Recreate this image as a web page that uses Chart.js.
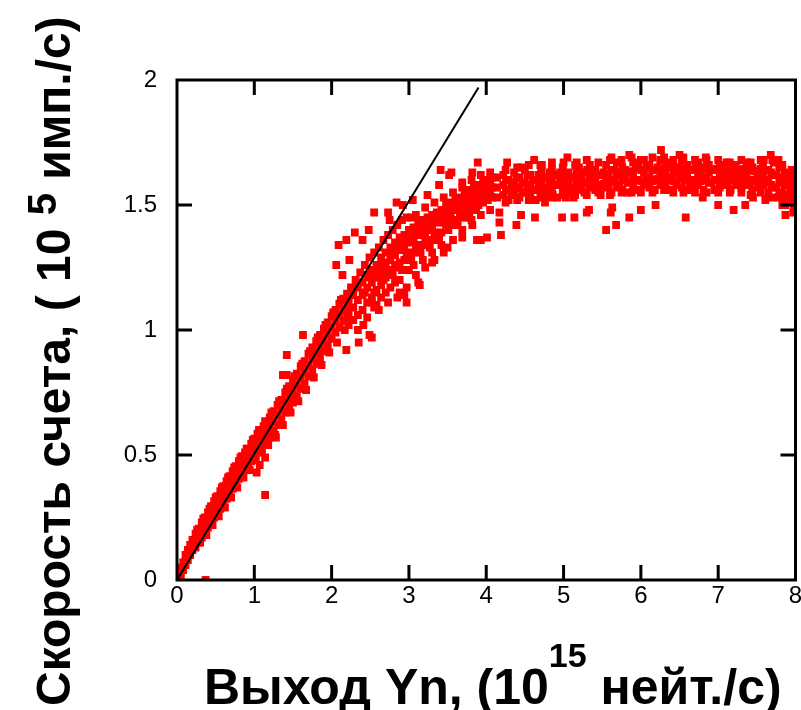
<!DOCTYPE html>
<html>
<head>
<meta charset="utf-8">
<script src="https://cdn.jsdelivr.net/npm/chart.js@4.4.0/dist/chart.umd.min.js"></script>
<style>
  html, body { margin: 0; padding: 0; background: #fff; }
  #wrap { width: 801px; height: 710px; }
</style>
</head>
<body>
<div id="wrap"><canvas id="scatterChart" width="801" height="710"></canvas></div>
<script>
// axis ticks
const xTicks = [0, 1, 2, 3, 4, 5, 6, 7, 8];
const xTickLabels = ['0', '1', '2', '3', '4', '5', '6', '7', '8'];
const yTicks = [0, 0.5, 1, 1.5, 2];
const yTickLabels = ['0', '0.5', '1', '1.5', '2'];

// linear fit line (yield, rate)
const fitYield = [0, 3.9];
const fitRate = [0, 1.97];

const risePoints = [
  [0.01,0.01],[0.02,0.03],[0.03,0.00],[0.05,0.05],[0.05,0.02],[0.08,0.07],[0.08,0.04],[0.11,0.10],[0.11,0.06],
  [0.14,0.12],[0.14,0.08],[0.17,0.14],[0.17,0.10],[0.20,0.16],[0.20,0.12],
  [0.24,0.185],[0.24,0.16],[0.24,0.13],[0.28,0.205],[0.28,0.18],[0.28,0.15],[0.32,0.23],[0.32,0.20],[0.32,0.17],
  [0.36,0.25],[0.36,0.22],[0.36,0.19],[0.40,0.27],[0.40,0.24],[0.40,0.21],[0.44,0.295],[0.44,0.26],[0.44,0.23],
  [0.48,0.315],[0.48,0.28],[0.48,0.25],[0.52,0.335],[0.52,0.30],[0.52,0.265],[0.56,0.355],[0.56,0.32],[0.56,0.285],
  [0.60,0.375],[0.60,0.34],[0.60,0.305],[0.64,0.395],[0.64,0.36],[0.64,0.325],[0.68,0.415],[0.68,0.38],[0.68,0.345],
  [0.72,0.435],[0.72,0.40],[0.72,0.365],[0.76,0.455],[0.76,0.42],[0.76,0.385],[0.80,0.475],[0.80,0.44],[0.80,0.405],
  [0.84,0.495],[0.84,0.46],[0.84,0.425],[0.88,0.51],[0.88,0.475],[0.88,0.44],[0.92,0.525],[0.92,0.49],[0.92,0.455],
  [0.96,0.545],[0.96,0.51],[0.96,0.475],[1.00,0.565],[1.00,0.53],[1.00,0.495],[1.04,0.585],[1.04,0.55],[1.04,0.515],
  [1.08,0.60],[1.08,0.565],[1.08,0.53],[1.12,0.615],[1.12,0.58],[1.12,0.545],[1.16,0.63],[1.16,0.595],[1.16,0.56],
  [1.20,0.65],[1.20,0.61],[1.20,0.57],[1.25,0.675],[1.25,0.635],[1.25,0.595],[1.30,0.70],[1.30,0.66],[1.30,0.62],
  [1.35,0.72],[1.35,0.68],[1.35,0.64],[1.40,0.75],[1.40,0.71],[1.40,0.67],[1.45,0.775],[1.45,0.73],[1.45,0.69],
  [1.50,0.80],[1.50,0.755],[1.50,0.71],[1.55,0.825],[1.55,0.78],[1.55,0.735],[1.60,0.855],[1.60,0.81],[1.60,0.765],
  [1.65,0.875],[1.65,0.83],[1.65,0.785],[1.70,0.905],[1.70,0.86],[1.70,0.815],[1.75,0.93],[1.75,0.885],[1.75,0.84],
  [1.80,0.955],[1.80,0.91],[1.80,0.865],[1.85,0.98],[1.85,0.935],[1.85,0.89],[1.90,1.005],[1.90,0.96],[1.90,0.915],
  [1.95,1.03],[1.95,0.985],[1.95,0.94],[2.00,1.055],[2.00,1.01],[2.00,0.965],[2.05,1.08],[2.05,1.035],[2.05,0.99],
  [2.10,1.105],[2.10,1.06],[2.10,1.01],[2.15,1.125],[2.15,1.08],[2.15,1.035],[2.20,1.145],[2.20,1.10],[2.20,1.05],
  [0.26,0.20],[0.30,0.15],[0.34,0.245],[0.38,0.18],[0.42,0.285],[0.46,0.22],[0.50,0.33],[0.54,0.255],[0.58,0.37],
  [0.62,0.29],[0.66,0.41],[0.70,0.33],[0.74,0.45],[0.78,0.37],[0.82,0.49],[0.86,0.41],[0.90,0.525],[0.94,0.44],
  [0.98,0.56],[1.02,0.48],[1.06,0.60],[1.10,0.51],[1.14,0.635],[1.18,0.54],[1.22,0.67],[1.27,0.58],[1.32,0.715],
  [1.37,0.62],[1.42,0.765],[1.47,0.67],[1.52,0.815],[1.57,0.715],[1.62,0.865],[1.67,0.76],[1.72,0.915],[1.77,0.81],
  [1.82,0.97],[1.87,0.86],[1.92,1.02],[1.97,0.91],[2.02,1.07],[2.07,0.95],[2.12,1.12],[2.17,1.00]
];

const kneePoints = [
  [2.22,1.12],[2.22,1.07],[2.22,1.02],[2.28,1.14],[2.28,1.09],[2.28,1.04],[2.34,1.17],[2.34,1.12],[2.34,1.06],[2.34,1.00],
  [2.40,1.19],[2.40,1.14],[2.40,1.08],[2.46,1.22],[2.46,1.17],[2.46,1.11],[2.46,1.05],[2.52,1.24],[2.52,1.19],[2.52,1.13],
  [2.58,1.26],[2.58,1.21],[2.58,1.16],[2.58,1.10],[2.64,1.29],[2.64,1.24],[2.64,1.18],[2.64,1.13],
  [2.70,1.31],[2.70,1.26],[2.70,1.21],[2.70,1.15],[2.76,1.33],[2.76,1.28],[2.76,1.23],[2.76,1.17],
  [2.82,1.35],[2.82,1.30],[2.82,1.25],[2.82,1.19],[2.88,1.37],[2.88,1.32],[2.88,1.27],[2.88,1.20],
  [2.94,1.38],[2.94,1.33],[2.94,1.28],[2.94,1.14],[3.00,1.40],[3.00,1.35],[3.00,1.30],[3.00,1.24],
  [3.06,1.41],[3.06,1.36],[3.06,1.31],[3.06,1.26],[3.12,1.43],[3.12,1.38],[3.12,1.33],[3.12,1.19],
  [3.18,1.44],[3.18,1.39],[3.18,1.34],[3.18,1.28],[3.24,1.45],[3.24,1.40],[3.24,1.35],
  [3.30,1.46],[3.30,1.41],[3.30,1.36],[3.30,1.31],[3.36,1.47],[3.36,1.43],[3.36,1.38],
  [3.42,1.48],[3.42,1.44],[3.42,1.39],[3.42,1.34],[3.48,1.50],[3.48,1.45],[3.48,1.40],
  [3.54,1.51],[3.54,1.46],[3.54,1.42],[3.60,1.52],[3.60,1.48],[3.60,1.43],[3.66,1.53],[3.66,1.49],[3.66,1.45],
  [3.72,1.55],[3.72,1.50],[3.72,1.46],[3.78,1.56],[3.78,1.52],[3.78,1.47],[3.84,1.57],[3.84,1.53],[3.84,1.49],
  [3.90,1.58],[3.90,1.54],[3.90,1.50],[3.96,1.59],[3.96,1.55],[3.96,1.51],[4.02,1.60],[4.02,1.56],[4.02,1.52],
  [4.08,1.61],[4.08,1.57],[4.08,1.53],[4.14,1.61],[4.14,1.57],[4.14,1.53],
  [2.55,1.23],[2.55,1.15],[2.67,1.27],[2.67,1.20],[2.79,1.31],[2.79,1.22],[2.91,1.35],[2.91,1.24],
  [3.03,1.38],[3.03,1.28],[3.03,1.45],[3.15,1.41],[3.15,1.31],[3.27,1.43],[3.27,1.33],[3.39,1.46],[3.39,1.36],
  [3.51,1.48],[3.51,1.40],[3.63,1.50],[3.63,1.42],[3.75,1.53],[3.75,1.45],[3.87,1.55],[3.87,1.48],
  [2.25,1.17],[2.31,1.20],[2.37,1.23],[2.43,1.26],[2.49,1.29],[2.55,1.31],[2.61,1.33],[2.67,1.36],[2.73,1.38],
  [2.79,1.40],[2.85,1.42],[2.91,1.44],[2.97,1.45],[3.09,1.46],[3.21,1.49],[3.33,1.51],[3.45,1.53],[3.57,1.55],
  [3.69,1.59],[3.81,1.60],[3.93,1.62],[4.05,1.63],
  [2.61,1.08],[2.73,1.11],[2.85,1.13],[2.97,1.17],[3.09,1.22],[3.21,1.25],[3.33,1.28],[3.45,1.31],[3.57,1.36],
  [3.69,1.40],[3.81,1.44],[3.93,1.46],[4.05,1.48],
  [2.43,1.15],[2.49,1.21],[2.61,1.23],[2.73,1.24],[2.85,1.26],[2.97,1.31],[3.09,1.34],[3.21,1.37],[3.33,1.39],
  [3.45,1.43],[3.57,1.44],[3.69,1.47],[3.81,1.50],[3.93,1.52],[4.05,1.54],[2.85,1.34],[2.97,1.38],[3.09,1.40],
  [3.21,1.42],[3.33,1.44],[3.45,1.47],[3.57,1.49],[3.69,1.52],[3.81,1.55],[3.93,1.57],[4.05,1.58]
];

const plateauPoints = [
  [4.22,1.62],[4.22,1.58],[4.22,1.54],[4.29,1.60],[4.29,1.56],[4.29,1.52],[4.36,1.63],[4.36,1.59],[4.36,1.55],
  [4.43,1.61],[4.43,1.57],[4.43,1.53],[4.50,1.64],[4.50,1.59],[4.50,1.55],[4.57,1.62],[4.57,1.58],[4.57,1.54],
  [4.64,1.60],[4.64,1.56],[4.64,1.52],[4.71,1.63],[4.71,1.59],[4.71,1.55],[4.78,1.61],[4.78,1.57],[4.78,1.54],
  [4.85,1.64],[4.85,1.60],[4.85,1.56],[4.92,1.62],[4.92,1.58],[4.92,1.53],[4.99,1.65],[4.99,1.60],[4.99,1.56],
  [5.06,1.63],[5.06,1.59],[5.06,1.55],[5.13,1.61],[5.13,1.57],[5.13,1.53],[5.20,1.65],[5.20,1.60],[5.20,1.56],
  [5.27,1.63],[5.27,1.59],[5.27,1.55],[5.34,1.66],[5.34,1.61],[5.34,1.57],[5.41,1.64],[5.41,1.60],[5.41,1.56],
  [5.48,1.62],[5.48,1.58],[5.48,1.54],[5.55,1.66],[5.55,1.61],[5.55,1.57],[5.62,1.64],[5.62,1.60],[5.62,1.55],
  [5.69,1.67],[5.69,1.62],[5.69,1.57],[5.76,1.65],[5.76,1.61],[5.76,1.56],[5.83,1.63],[5.83,1.59],[5.83,1.55],
  [5.90,1.67],[5.90,1.62],[5.90,1.58],[5.97,1.65],[5.97,1.60],[5.97,1.56],[6.04,1.68],[6.04,1.63],[6.04,1.58],
  [6.11,1.66],[6.11,1.61],[6.11,1.57],[6.18,1.64],[6.18,1.60],[6.18,1.56],[6.25,1.68],[6.25,1.63],[6.25,1.58],
  [6.32,1.66],[6.32,1.62],[6.32,1.57],[6.39,1.67],[6.39,1.61],[6.39,1.56],[6.46,1.65],[6.46,1.63],[6.46,1.58],
  [6.53,1.68],[6.53,1.62],[6.53,1.57],[6.60,1.66],[6.60,1.61],[6.60,1.56],[6.67,1.64],[6.67,1.60],[6.67,1.57],
  [6.74,1.67],[6.74,1.62],[6.74,1.58],[6.81,1.65],[6.81,1.61],[6.81,1.56],[6.88,1.66],[6.88,1.63],[6.88,1.59],
  [6.95,1.64],[6.95,1.60],[6.95,1.56],[7.02,1.66],[7.02,1.62],[7.02,1.57],[7.09,1.65],[7.09,1.61],[7.09,1.58],
  [7.16,1.63],[7.16,1.60],[7.16,1.56],[7.23,1.66],[7.23,1.62],[7.23,1.58],[7.30,1.64],[7.30,1.61],[7.30,1.57],
  [7.37,1.67],[7.37,1.62],[7.37,1.58],[7.44,1.65],[7.44,1.60],[7.44,1.56],[7.51,1.63],[7.51,1.61],[7.51,1.57],
  [7.58,1.66],[7.58,1.62],[7.58,1.58],[7.65,1.64],[7.65,1.60],[7.65,1.55],[7.72,1.67],[7.72,1.62],[7.72,1.57],
  [7.79,1.65],[7.79,1.59],[7.79,1.54],[7.86,1.63],[7.86,1.58],[7.86,1.52],[7.93,1.62],[7.93,1.57],[7.93,1.51],
  [7.98,1.60],[7.98,1.55],[7.98,1.49],
  [5.515,1.63],[5.515,1.585],[5.585,1.625],[5.585,1.58],[5.655,1.64],[5.655,1.595],[5.725,1.63],[5.725,1.585],
  [5.795,1.64],[5.795,1.60],[5.865,1.635],[5.865,1.59],[5.935,1.645],[5.935,1.60],[6.005,1.64],[6.005,1.595],
  [6.075,1.65],[6.075,1.60],[6.145,1.64],[6.145,1.595],[6.215,1.65],[6.215,1.605],[6.285,1.645],[6.285,1.60],
  [6.355,1.65],[6.355,1.60],[6.425,1.64],[6.425,1.595],[6.495,1.65],[6.495,1.605],[6.565,1.645],[6.565,1.60],
  [6.635,1.64],[6.635,1.59],[6.705,1.65],[6.705,1.60],[6.775,1.64],[6.775,1.595],[6.845,1.645],[6.845,1.60],
  [6.915,1.64],[6.915,1.59],[6.985,1.645],[6.985,1.60],[7.055,1.64],[7.055,1.595],[7.125,1.635],[7.125,1.59],
  [7.195,1.645],[7.195,1.60],[7.265,1.64],[7.265,1.595],[7.335,1.645],[7.335,1.60],[7.405,1.64],[7.405,1.59],
  [7.475,1.635],[7.475,1.595],[7.545,1.645],[7.545,1.60],[7.615,1.64],[7.615,1.59],
  [4.25,1.64],[4.40,1.65],[4.55,1.66],[4.70,1.66],[4.85,1.67],[5.00,1.67],[5.15,1.66],[5.30,1.68],[5.45,1.67],
  [5.60,1.68],[5.75,1.68],[5.88,1.69],[6.00,1.68],[6.15,1.69],[6.30,1.69],[6.42,1.68],[6.55,1.69],[6.70,1.68],
  [6.85,1.68],[7.00,1.68],[7.15,1.67],[7.30,1.68],[7.42,1.67],[7.55,1.68],[7.70,1.68],[7.83,1.66],[7.95,1.64],
  [4.25,1.51],[4.40,1.52],[4.55,1.52],[4.70,1.53],[4.85,1.53],[5.00,1.54],[5.15,1.54],[5.30,1.54],[5.45,1.55],
  [5.60,1.54],[5.75,1.55],[5.88,1.55],[6.00,1.55],[6.15,1.55],[6.30,1.56],[6.42,1.55],[6.55,1.55],[6.70,1.55],
  [6.85,1.55],[7.00,1.55],[7.15,1.55],[7.30,1.55],[7.42,1.54],[7.55,1.55],[7.70,1.53],[7.83,1.50],[7.95,1.53],
  [4.255,1.60],[4.255,1.56],[4.325,1.58],[4.325,1.54],[4.395,1.61],[4.395,1.57],[4.465,1.59],[4.465,1.55],
  [4.535,1.62],[4.535,1.57],[4.605,1.60],[4.605,1.56],[4.675,1.62],[4.675,1.58],[4.745,1.61],[4.745,1.56],
  [4.815,1.63],[4.815,1.58],[4.885,1.62],[4.885,1.58],[4.955,1.63],[4.955,1.59],[5.025,1.62],[5.025,1.58],
  [5.095,1.61],[5.095,1.57],[5.165,1.63],[5.165,1.59],[5.235,1.62],[5.235,1.58],[5.305,1.64],[5.305,1.59],
  [5.375,1.63],[5.375,1.59],[5.445,1.62],[5.445,1.58],[7.685,1.63],[7.685,1.58],[7.755,1.62],[7.755,1.57],
  [7.825,1.61],[7.825,1.55],[7.895,1.60],[7.895,1.54],[7.965,1.58],[7.965,1.52]
];

const strayPoints = [
  [0.37,0.00],[1.14,0.34],[1.03,0.43],[1.07,0.46],[1.14,0.49],[1.37,0.82],[1.42,0.90],[1.42,0.82],[1.63,0.98],[1.28,0.57],
  [2.06,1.26],[2.14,1.22],[2.09,1.34],[2.19,1.36],[2.23,1.28],[2.30,1.39],[2.48,1.40],[2.40,1.36],[2.55,1.47],[2.73,1.47],
  [2.75,1.44],[2.84,1.51],[2.92,1.50],[3.05,1.52],[3.24,1.54],[3.41,1.64],[3.55,1.63],[3.89,1.67],[3.69,1.57],[3.82,1.63],
  [3.52,1.62],[3.39,1.58],
  [2.19,0.92],[2.35,0.95],[2.41,1.02],[2.52,0.97],[2.49,0.98],[2.55,1.09],[2.52,1.11],[2.88,1.15],[2.97,1.11],[3.14,1.18],
  [3.69,1.37],[3.88,1.36],[3.93,1.36],[4.01,1.37],[4.19,1.38],[3.82,1.42],[3.78,1.45],[3.30,1.27],[3.50,1.33],
  [4.27,1.67],[4.62,1.68],[4.72,1.66],[5.05,1.69],[5.17,1.67],[5.85,1.70],[6.26,1.72],[6.84,1.69],[7.11,1.67],[7.59,1.68],
  [7.68,1.70],[7.78,1.68],[4.45,1.65],[5.62,1.69],[6.50,1.70],
  [4.39,1.42],[4.17,1.43],[4.17,1.47],[4.45,1.46],[4.63,1.45],[4.98,1.45],[5.14,1.45],[5.30,1.47],[5.55,1.40],[5.68,1.42],
  [5.61,1.47],[5.63,1.49],[5.85,1.45],[6.00,1.48],[6.19,1.50],[6.58,1.45],[7.00,1.50],[7.20,1.48],[7.35,1.50],[7.61,1.52],
  [7.78,1.53],[7.87,1.46],[7.97,1.47],[7.87,1.50],[4.76,1.51],[5.03,1.53],[4.86,1.54],[5.33,1.48],[6.80,1.53],[7.45,1.53]
];

// axis titles, split in runs for the superscripts
const xTitleRuns = [
  { text: 'Выход Yn, (10', size: 50, rise: 0 },
  { text: '15', size: 34, rise: 37 },
  { text: ' нейт./с)', size: 50, rise: 0 }
];
const yTitleRuns = [
  { text: 'Скорость счета, ( 10 ', size: 48, rise: 0 },
  { text: '5', size: 40, rise: 14 },
  { text: ' имп./с)', size: 48, rise: 0 }
];

const FONT = '"Liberation Sans", Arial, sans-serif';

const toXY = pts => pts.map(p => ({ x: p[0], y: p[1] }));

function drawRuns(ctx, runs, x, y) {
  runs.forEach(r => {
    ctx.font = 'bold ' + r.size + 'px ' + FONT;
    ctx.fillText(r.text, x, y - r.rise);
    x += ctx.measureText(r.text).width;
  });
}

// box frame with inward ticks on all four sides
const framePlugin = {
  id: 'frame',
  afterDatasetsDraw(chart) {
    const { ctx, chartArea: a, scales: { x, y } } = chart;
    const len = 15;
    ctx.save();
    ctx.strokeStyle = '#000';
    ctx.lineWidth = 3;
    ctx.strokeRect(a.left, a.top, a.right - a.left, a.bottom - a.top);
    ctx.beginPath();
    xTicks.slice(1, -1).forEach(v => {
      const px = x.getPixelForValue(v);
      ctx.moveTo(px, a.bottom); ctx.lineTo(px, a.bottom - len);
      ctx.moveTo(px, a.top); ctx.lineTo(px, a.top + len);
    });
    yTicks.slice(1, -1).forEach(v => {
      const py = y.getPixelForValue(v);
      ctx.moveTo(a.left, py); ctx.lineTo(a.left + len, py);
      ctx.moveTo(a.right, py); ctx.lineTo(a.right - len, py);
    });
    ctx.stroke();
    ctx.restore();
  }
};

const titlePlugin = {
  id: 'axisTitles',
  afterDraw(chart) {
    const ctx = chart.ctx;
    ctx.save();
    ctx.fillStyle = '#000';
    ctx.textBaseline = 'alphabetic';
    ctx.textAlign = 'left';
    drawRuns(ctx, xTitleRuns, 204, 704);
    ctx.translate(70, 706);
    ctx.rotate(-Math.PI / 2);
    drawRuns(ctx, yTitleRuns, 0, 0);
    ctx.restore();
  }
};

const tickFont = { family: FONT, size: 24 };

new Chart(document.getElementById('scatterChart'), {
  type: 'scatter',
  data: {
    datasets: [{
      type: 'line',
      data: fitYield.map((v, i) => ({ x: v, y: fitRate[i] })),
      borderColor: '#000',
      borderWidth: 2,
      pointRadius: 0,
      fill: false,
      tension: 0
    }, {
      data: toXY([...risePoints, ...kneePoints, ...plateauPoints, ...strayPoints]),
      pointStyle: 'rect',
      pointRadius: 5.5,
      pointHoverRadius: 5.5,
      backgroundColor: '#ff0000',
      borderWidth: 0,
      clip: 0
    }]
  },
  options: {
    responsive: false,
    animation: false,
    devicePixelRatio: 1,
    layout: { padding: { top: 80, right: 4, left: 0, bottom: 0 } },
    plugins: { legend: { display: false }, tooltip: { enabled: false } },
    scales: {
      x: {
        type: 'linear', min: 0, max: 8,
        afterBuildTicks: s => { s.ticks = xTicks.map(v => ({ value: v })); },
        afterFit: s => { s.height = 130; s.paddingRight = 0; },
        grid: { display: false, drawTicks: false },
        border: { display: false },
        ticks: {
          color: '#000', font: tickFont, padding: 2, maxRotation: 0, autoSkip: false,
          callback: (v, i) => xTickLabels[i]
        }
      },
      y: {
        type: 'linear', min: 0, max: 2,
        afterBuildTicks: s => { s.ticks = yTicks.map(v => ({ value: v })); },
        afterFit: s => { s.width = 177; },
        grid: { display: false, drawTicks: false },
        border: { display: false },
        ticks: {
          color: '#000', font: tickFont, padding: 20, autoSkip: false,
          callback: (v, i) => yTickLabels[i]
        }
      }
    }
  },
  plugins: [framePlugin, titlePlugin]
});
</script>
</body>
</html>
